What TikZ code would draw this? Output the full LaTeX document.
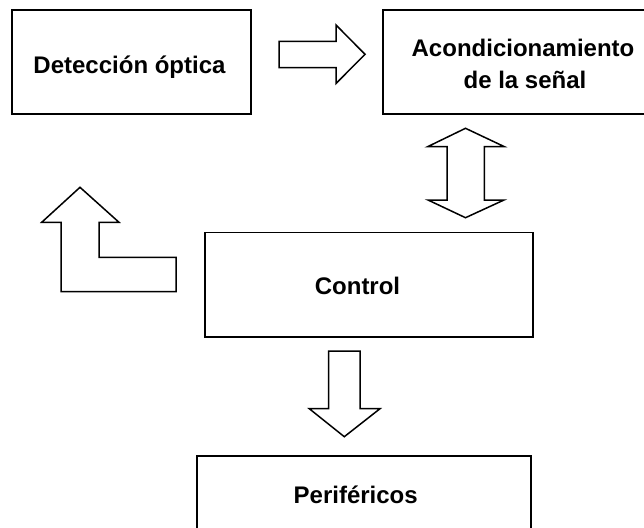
\documentclass[tikz,border=0pt]{standalone}
\usepackage{fontspec}
\setmainfont{Liberation Sans}
\begin{document}
\begin{tikzpicture}[x=1pt,y=-1pt,
  box/.style={draw=black,line width=1.7pt,rectangle,inner sep=0pt},
  lbl/.style={font=\bfseries\fontsize{24}{32}\selectfont,align=center,inner sep=0pt,anchor=base},
  blockarrow/.style={draw=black,line width=1.5pt,fill=white,line join=miter}]
\useasboundingbox (0,0) rectangle (644,527);
\clip (0,0) rectangle (644,527);
% boxes
\node[box,minimum width=239pt,minimum height=104pt] (det) at (131.5,62) {};
\node[box,minimum width=280pt,minimum height=104pt] (acond) at (523,62) {};
\node[box,minimum width=328pt,minimum height=104.5pt] (ctrl) at (369,284.7) {};
\node[box,minimum width=334pt,minimum height=80pt] (peri) at (364,495.7) {};
% labels
\node[lbl] (detl) at (129.5,73) {Detección óptica};
\node[lbl] (acondl1) at (523,56.5) {Acondicionamiento};
\node[lbl] (acondl2) at (525,88) {de la señal};
\node[lbl] (ctrll) at (357.5,294.3) {Control};
\node[lbl] (peril) at (355.7,503.3) {Periféricos};
% right block arrow
\draw[blockarrow] (279,41.5) -- (336,41.5) -- (336,25) -- (365,54.3) -- (336,83.5) -- (336,67.5) -- (279,67.5) -- cycle;
% double vertical block arrow
\draw[blockarrow] (465.5,128.3) -- (504,146.5) -- (484.3,146.5) -- (484.3,200) -- (504,200) -- (465.5,217.7) -- (428,200) -- (447,200) -- (447,146.5) -- (428,146.5) -- cycle;
% L-shaped block arrow
\draw[blockarrow] (80,187.3) -- (119,222.3) -- (99,222.3) -- (99,257.3) -- (176,257.3) -- (176,291.7) -- (61,291.7) -- (61,222.3) -- (41.7,222.3) -- cycle;
% down block arrow
\draw[blockarrow] (328.7,351) -- (360,351) -- (360,408.7) -- (380,408.7) -- (344.3,436.7) -- (309.3,408.7) -- (328.7,408.7) -- cycle;
\end{tikzpicture}
\end{document}
